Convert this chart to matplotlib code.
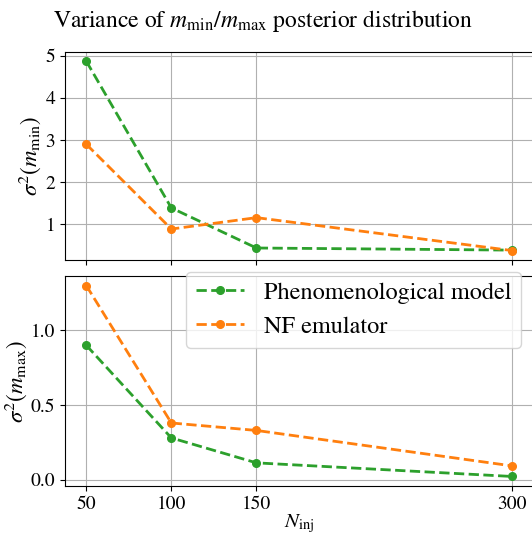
import matplotlib
matplotlib.use('Agg')
import matplotlib.pyplot as plt

plt.rcParams['font.family'] = ['STIXGeneral', 'DejaVu Serif']
plt.rcParams['mathtext.fontset'] = 'stix'

# data
n_inj = [50, 100, 150, 300]
var_min_pheno = [4.87, 1.39, 0.44, 0.39]
var_min_nf = [2.90, 0.89, 1.16, 0.38]
var_max_pheno = [0.90, 0.28, 0.113, 0.022]
var_max_nf = [1.30, 0.38, 0.33, 0.093]

GREEN = '#2ca02c'
ORANGE = '#ff7f0e'
W, H = 532, 535

fig = plt.figure(figsize=(W/100, H/100), dpi=100)
ax1 = fig.add_axes([65/W, (H-260)/H, (533-65)/W, (260-51.7)/H])
ax2 = fig.add_axes([65/W, (H-486)/H, (533-65)/W, (486-276)/H], sharex=ax1)

kw = dict(linestyle='--', marker='o', linewidth=2, markersize=5.5)
ax1.plot(n_inj, var_min_pheno, color=GREEN, **kw)
ax1.plot(n_inj, var_min_nf, color=ORANGE, **kw)
ax2.plot(n_inj, var_max_pheno, color=GREEN, label='Phenomenological model', **kw)
ax2.plot(n_inj, var_max_nf, color=ORANGE, label='NF emulator', **kw)

for ax in (ax1, ax2):
    ax.grid(True)
    ax.tick_params(labelsize=14)
ax1.tick_params(labelbottom=False)
ax2.set_xticks(n_inj)
ax1.set_yticks([1, 2, 3, 4, 5])
ax2.set_yticks([0.0, 0.5, 1.0])

ax1.set_ylabel(r'$\sigma^2(m_{\rm min})$', fontsize=16.5, labelpad=2)
ax2.set_ylabel(r'$\sigma^2(m_{\rm max})$', fontsize=16.5, labelpad=1)
ax2.set_xlabel(r'$N_{\rm inj}$', fontsize=15, labelpad=0)

ax2.legend(loc='upper right', bbox_to_anchor=(1.0, 1.077), fontsize=17.5)
fig.suptitle(r'Variance of $m_{\rm min}/m_{\rm max}$ posterior distribution',
             fontsize=17, x=0.494, y=0.985)

fig.savefig('out.png', dpi=100)
